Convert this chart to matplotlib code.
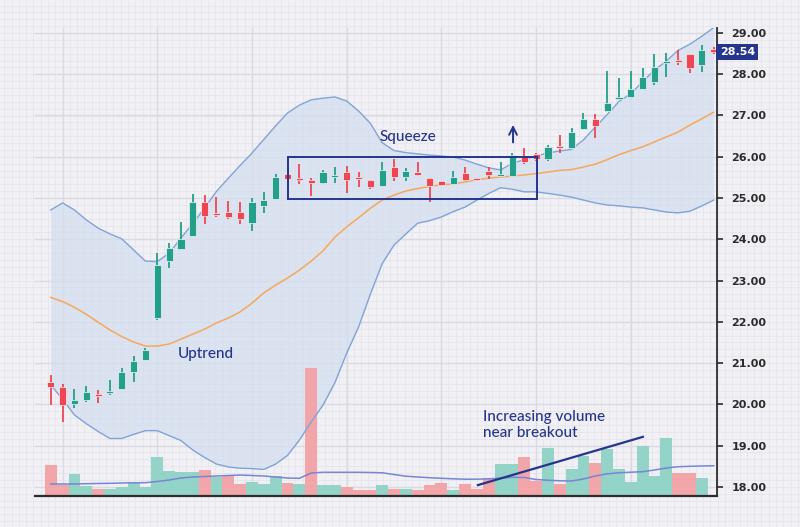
import numpy as np
import matplotlib
matplotlib.use('Agg')
import matplotlib.pyplot as plt
from matplotlib.patches import Rectangle
from matplotlib.transforms import blended_transform_factory, Affine2D

# candles (one per session)
open_ = [20.53, 20.43, 20.00, 20.10, 20.25, 20.27, 20.37, 20.77, 21.07, 22.08,
         23.48, 23.76, 24.08, 24.90, 24.63, 24.65, 24.67, 24.39, 24.81, 24.98,
         25.57, 25.47, 25.44, 25.36, 25.52, 25.62, 25.52, 25.44, 25.29, 25.76,
         25.52, 25.64, 25.48, 25.40, 25.34, 25.60, 25.46, 25.66, 25.53, 25.53,
         26.03, 26.06, 25.94, 26.26, 26.20, 26.67, 26.92, 27.12, 27.39, 27.44,
         27.64, 27.82, 28.28, 28.35, 28.49, 28.22, 28.60]
high = [20.71, 20.49, 20.36, 20.45, 20.35, 20.59, 20.89, 21.18, 21.36, 23.67,
        23.90, 24.43, 25.10, 25.07, 25.03, 24.93, 24.91, 25.01, 25.14, 25.58,
        25.62, 25.82, 25.49, 25.68, 25.76, 25.78, 25.62, 25.44, 25.87, 25.95,
        25.73, 25.88, 25.48, 25.42, 25.65, 25.74, 25.48, 25.74, 25.88, 26.08,
        26.22, 26.08, 26.28, 26.53, 26.69, 27.05, 27.04, 28.09, 27.90, 28.08,
        28.14, 28.48, 28.51, 28.59, 28.49, 28.71, 28.66]
low = [19.98, 19.58, 19.90, 20.06, 20.04, 20.22, 20.37, 20.55, 21.07, 22.04,
       23.30, 23.76, 24.08, 24.37, 24.53, 24.49, 24.37, 24.20, 24.63, 24.98,
       25.43, 25.33, 25.05, 25.33, 25.36, 25.13, 25.27, 25.21, 25.29, 25.40,
       25.40, 25.56, 24.91, 25.30, 25.34, 25.40, 25.40, 25.46, 25.53, 25.53,
       25.82, 25.90, 25.90, 26.08, 26.20, 26.67, 26.45, 27.12, 27.39, 27.44,
       27.64, 27.74, 27.93, 28.22, 28.04, 28.06, 28.50]
close = [20.43, 19.97, 20.10, 20.30, 20.22, 20.33, 20.79, 21.06, 21.32, 23.38,
         23.80, 24.01, 24.90, 24.57, 24.60, 24.55, 24.48, 24.91, 24.95, 25.52,
         25.45, 25.44, 25.36, 25.62, 25.53, 25.44, 25.45, 25.27, 25.68, 25.52,
         25.65, 25.56, 25.29, 25.32, 25.52, 25.44, 25.44, 25.56, 25.57, 26.04,
         25.88, 25.94, 26.24, 26.20, 26.61, 26.92, 26.75, 27.31, 27.44, 27.64,
         27.93, 28.18, 28.32, 28.31, 28.16, 28.59, 28.54]

# bollinger bands + middle average
upper = [24.71, 24.88, 24.71, 24.47, 24.27, 24.13, 24.01, 23.74, 23.47, 23.46,
         23.66, 24.03, 24.38, 24.76, 25.16, 25.48, 25.79, 26.09, 26.42, 26.75,
         27.06, 27.25, 27.38, 27.42, 27.45, 27.35, 27.11, 26.81, 26.34, 26.15,
         26.10, 26.07, 26.04, 26.02, 25.99, 25.92, 25.82, 25.73, 25.68, 25.84,
         25.93, 26.02, 26.09, 26.14, 26.18, 26.41, 26.72, 27.02, 27.34, 27.53,
         27.82, 28.10, 28.32, 28.58, 28.73, 28.92, 29.13]
lower = [20.47, 20.12, 19.74, 19.53, 19.34, 19.17, 19.17, 19.27, 19.36, 19.36,
         19.24, 19.12, 18.89, 18.71, 18.55, 18.48, 18.45, 18.44, 18.42, 18.55,
         18.76, 19.13, 19.57, 19.98, 20.52, 21.24, 21.87, 22.67, 23.41, 23.86,
         24.13, 24.39, 24.45, 24.54, 24.67, 24.78, 24.95, 25.11, 25.25, 25.21,
         25.15, 25.15, 25.11, 25.07, 25.02, 24.95, 24.88, 24.83, 24.81, 24.78,
         24.76, 24.71, 24.66, 24.64, 24.68, 24.81, 24.95]
ma = [22.59, 22.49, 22.35, 22.18, 21.99, 21.80, 21.64, 21.51, 21.41, 21.41,
      21.46, 21.58, 21.70, 21.82, 21.97, 22.09, 22.24, 22.45, 22.70, 22.89,
      23.06, 23.25, 23.47, 23.72, 24.05, 24.30, 24.52, 24.75, 24.95, 25.07,
      25.17, 25.23, 25.28, 25.32, 25.34, 25.39, 25.44, 25.48, 25.51, 25.53,
      25.56, 25.59, 25.63, 25.67, 25.69, 25.75, 25.82, 25.93, 26.05, 26.15,
      26.24, 26.36, 26.48, 26.60, 26.77, 26.92, 27.08]

# volume (thousands) and its moving average
volume = [310, 110, 217, 100, 70, 70, 87, 127, 87, 387,
          250, 237, 237, 260, 193, 210, 120, 140, 120, 203,
          127, 117, 1277, 110, 110, 87, 60, 60, 110, 70,
          70, 60, 110, 127, 60, 120, 67, 177, 317, 317,
          387, 150, 483, 117, 270, 403, 333, 467, 270, 137,
          503, 200, 583, 233, 233, 177]
vol_up = [0, 0, 1, 1, 0, 1, 1, 1, 1, 1,
          1, 1, 1, 0, 1, 0, 0, 1, 1, 1,
          0, 1, 0, 1, 1, 0, 0, 0, 1, 0,
          1, 0, 0, 0, 1, 0, 0, 0, 1, 1,
          0, 0, 1, 0, 1, 1, 0, 1, 1, 1,
          1, 1, 1, 0, 0, 1]
vol_ma = [120, 120, 120, 123, 125, 127, 130, 132, 133, 145,
          160, 180, 190, 195, 200, 205, 210, 205, 200, 190,
          180, 177, 230, 237, 237, 237, 237, 235, 232, 215,
          198, 190, 183, 177, 172, 168, 168, 172, 178, 187,
          185, 165, 158, 152, 150, 170, 200, 222, 232, 238,
          243, 260, 280, 293, 297, 300, 303]

yticks = list(range(18, 30))
last_price = 28.54

navy = '#25358c'
up_c = '#22a08b'
dn_c = '#ef4651'

fig = plt.figure(figsize=(8, 5.27), dpi=100, facecolor='#f1f0f4')

# graph-paper background over the whole picture
bg = fig.add_axes([0, 0, 1, 1], zorder=0)
bg.set_xlim(0, 800)
bg.set_ylim(527, 0)
bg.axis('off')
bg.vlines(np.arange(62.5 - 7.28 * 8, 800, 7.28), 0, 527, color='#e6e5eb', lw=0.6)
bg.hlines(np.arange(33 - 41.25 / 6 * 4, 527, 41.25 / 6), 0, 800, color='#e6e5eb', lw=0.6)

ax = fig.add_axes([35 / 800, 31 / 527, 682 / 800, 468 / 527], zorder=1)
ax.patch.set_alpha(0)
idx = np.arange(len(close))

ax.set_xticks(np.arange(1, 57, 8))
ax.grid(True, color='#dbdae1', lw=1.0)
ax.set_axisbelow(True)

ax.fill_between(idx, lower, upper, color='#d3ddef', alpha=0.7, lw=0, zorder=1)
ax.plot(idx, upper, color='#7fa4d8', lw=1.0, zorder=2)
ax.plot(idx, lower, color='#7fa4d8', lw=1.0, zorder=2)
ax.plot(idx, ma, color='#f7a759', lw=1.1, zorder=2)

# volume on its own vertical scale at the bottom
vol_top = 4680
vol_tr = blended_transform_factory(ax.transData, Affine2D().scale(1, 1 / vol_top) + ax.transAxes)
vcols = ['#8fd2c5' if u else '#f3a2a6' for u in vol_up]
ax.bar(idx[:len(volume)], volume, width=1.0, color=vcols, alpha=0.95, transform=vol_tr, zorder=1.5)
ax.plot(idx, vol_ma, color='#7686d4', lw=1.1, transform=vol_tr, zorder=1.6)

# candles
o = np.array(open_)
c = np.array(close)
cols = [up_c if cc >= oo else dn_c for oo, cc in zip(o, c)]
ax.vlines(idx, low, high, colors=cols, lw=1.3, zorder=3)
h = np.maximum(np.abs(c - o), 0.05)
b = np.minimum(o, c) - (h - np.abs(c - o)) / 2
ax.bar(idx, h, width=0.6, bottom=b, color=cols, edgecolor='#f2f5f7', lw=0.5, zorder=4)

# annotations
ax.add_patch(Rectangle((20.04, 24.98), 21.03, 1.01, fill=False, ec=navy, lw=1.4, zorder=5))
ax.annotate('', xy=(39.05, 26.84), xytext=(39.05, 26.28),
            arrowprops=dict(arrowstyle='->', color=navy, lw=1.4, mutation_scale=14))
ax.plot([36.08, 50.02], [18.04, 19.21], color=navy, lw=1.6, zorder=5)
tfont = dict(family='Lato', fontsize=11, fontweight='medium', color=navy)
ax.text(27.8, 26.38, 'Squeeze', va='baseline', **tfont)
ax.text(10.77, 21.12, 'Uptrend', va='baseline', **tfont)
ax.text(36.5, 19.60, 'Increasing volume', va='baseline', **tfont)
ax.text(36.5, 19.20, 'near breakout', va='baseline', **tfont)

ax.set_xlim(-1.33, 56.28)
ax.set_ylim(17.776, 29.121)

ax.yaxis.tick_right()
ax.set_yticks(yticks)
ax.set_yticklabels([f'{v:.2f}' for v in yticks], fontweight='bold')
ax.tick_params(axis='y', labelsize=8, labelcolor='#2b2b2b', color='#2b2b2b',
               length=4.5, width=1.2, pad=6)
ax.tick_params(axis='x', length=0, labelbottom=False)
for s in ['top', 'left']:
    ax.spines[s].set_visible(False)
ax.spines['right'].set_color('#2d2d2d')
ax.spines['right'].set_linewidth(1.3)
ax.spines['bottom'].set_color('#2d2d2d')
ax.spines['bottom'].set_linewidth(1.6)

lab_tr = blended_transform_factory(ax.transAxes, ax.transData)
ax.text(1.004, last_price, f'{last_price:.2f}', transform=lab_tr, ha='left', va='center',
        fontsize=8, fontweight='bold', color='white', clip_on=False, zorder=6,
        bbox=dict(boxstyle='square,pad=0.3', fc=navy, ec='none'))

fig.savefig('out.png', dpi=100, facecolor=fig.get_facecolor())
